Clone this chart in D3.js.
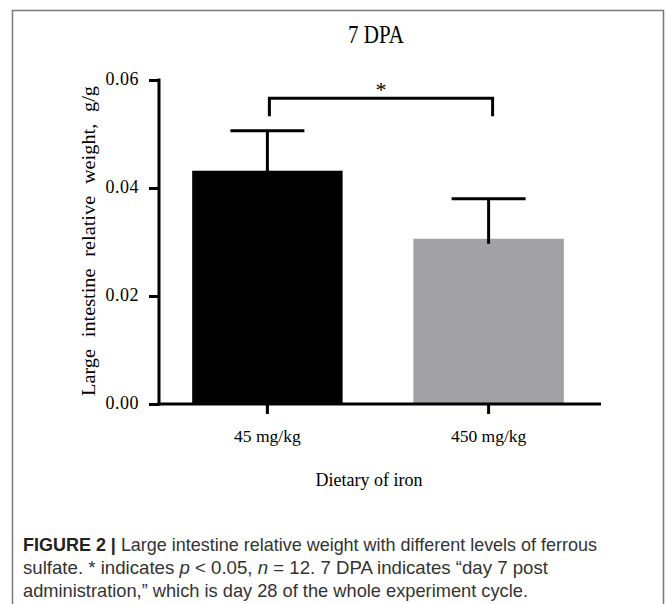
<!DOCTYPE html>
<meta charset="utf-8">
<title>7 DPA</title>
<style>
    body { margin: 0; background: #fff; }
    svg text { font-family: "Liberation Serif", "Times New Roman", serif; fill: #000; }
    .caption { font-family: "Liberation Sans Narrow", "Arial Narrow", "Liberation Sans", sans-serif; font-size: 18.5px; fill: #333; }
    .axis path, .axis line { stroke: #000; stroke-width: 3px; }
    .axis text { font-size: 18px; letter-spacing: 0.5px; }
</style>
<body>
<div id="chart"></div>
<script src="https://cdnjs.cloudflare.com/ajax/libs/d3/7.8.5/d3.min.js"></script>
<script>
    // data
    var groups = ["45 mg/kg", "450 mg/kg"];
    var means = [0.0432, 0.0306];
    var errors = [0.0074, 0.0074];
    var barColors = ["#000000", "#a2a1a5"];
    var yTicks = [0, 0.02, 0.04, 0.06];

    var width = 667, height = 604;
    var svg = d3.select("#chart").append("svg")
        .attr("width", width)
        .attr("height", height);

    // figure frame (open at the bottom)
    svg.append("path")
        .attr("d", "M12.5,620V10.5H663.5V620")
        .attr("fill", "none")
        .attr("stroke", "#7a7a7a")
        .attr("stroke-width", 1.5);

    var x = d3.scaleBand().domain(groups).range([159, 597]).paddingInner(0.32).paddingOuter(0.15);
    var y = d3.scaleLinear().domain([0, 0.06]).range([404, 80]);

    // bars
    svg.selectAll("rect.bar")
        .data(means)
        .enter()
        .append("rect")
        .attr("class", "bar")
        .attr("x", function (d, i) { return x(groups[i]); })
        .attr("y", function (d) { return y(d); })
        .attr("width", x.bandwidth())
        .attr("height", function (d) { return y(0) - y(d); })
        .attr("fill", function (d, i) { return barColors[i]; });

    // error bars (upper only)
    var eb = svg.selectAll("g.err")
        .data(means)
        .enter()
        .append("g")
        .attr("class", "err")
        .attr("stroke", "#000")
        .attr("stroke-width", 3);
    eb.append("line")
        .attr("x1", function (d, i) { return x(groups[i]) + x.bandwidth() / 2; })
        .attr("x2", function (d, i) { return x(groups[i]) + x.bandwidth() / 2; })
        .attr("y1", function (d) { return y(d) + 5; })
        .attr("y2", function (d, i) { return y(d + errors[i]); });
    eb.append("line")
        .attr("x1", function (d, i) { return x(groups[i]) + x.bandwidth() / 2 - 37; })
        .attr("x2", function (d, i) { return x(groups[i]) + x.bandwidth() / 2 + 37; })
        .attr("y1", function (d, i) { return y(d + errors[i]); })
        .attr("y2", function (d, i) { return y(d + errors[i]); });

    // axes
    var yAxis = svg.append("g")
        .attr("class", "axis")
        .attr("transform", "translate(159,0)")
        .call(d3.axisLeft(y).tickValues(yTicks).tickFormat(d3.format(".2f")).tickSize(10).tickSizeOuter(0).tickPadding(10));
    yAxis.select(".domain").attr("d", "M0," + (y(0) + 1.5) + "V" + (y(0.06) - 1.5));
    yAxis.selectAll("text").attr("transform", "scale(1,1.1)").attr("dy", "0.25em");

    var xAxis = svg.append("g")
        .attr("class", "axis")
        .attr("transform", "translate(0," + y(0) + ")")
        .call(d3.axisBottom(x).tickSize(10).tickSizeOuter(0).tickPadding(16));
    xAxis.select(".domain").attr("d", "M157.5,0H601");
    xAxis.selectAll("text").style("letter-spacing", "0px").style("font-size", "17.5px");

    // significance bracket
    var bx1 = x(groups[0]) + x.bandwidth() / 2 + 2;
    var bx2 = x(groups[1]) + x.bandwidth() / 2 + 4;
    var by = y(0.0566);
    svg.append("path")
        .attr("d", "M" + bx1 + "," + (by + 18) + "V" + by + "H" + bx2 + "V" + (by + 18))
        .attr("fill", "none")
        .attr("stroke", "#000")
        .attr("stroke-width", 3);
    svg.append("text")
        .attr("x", (bx1 + bx2) / 2)
        .attr("y", by - 1)
        .attr("text-anchor", "middle")
        .style("font-size", "22px")
        .text("*");

    // titles
    svg.append("text")
        .attr("transform", "translate(376,43) scale(1,1.2)")
        .attr("text-anchor", "middle")
        .style("font-size", "21px")
        .text("7 DPA");

    svg.append("text")
        .attr("transform", "translate(95,241) rotate(-90)")
        .attr("text-anchor", "middle")
        .attr("textLength", 310)
        .attr("lengthAdjust", "spacingAndGlyphs")
        .style("font-size", "18px")
        .style("word-spacing", "6px")
        .text("Large intestine relative weight, g/g");

    svg.append("text")
        .attr("transform", "translate(369,486) scale(1,1.1)")
        .attr("text-anchor", "middle")
        .style("font-size", "18px")
        .text("Dietary of iron");

    // caption
    var cap = svg.append("g");
    var l1 = cap.append("text").attr("class", "caption").attr("x", 23).attr("y", 551)
        .attr("textLength", 574).attr("lengthAdjust", "spacingAndGlyphs");
    l1.append("tspan").style("font-weight", "bold").style("fill", "#222").text("FIGURE 2 | ");
    l1.append("tspan").text("Large intestine relative weight with different levels of ferrous");
    var l2 = cap.append("text").attr("class", "caption").attr("x", 23).attr("y", 574)
        .attr("textLength", 525).attr("lengthAdjust", "spacingAndGlyphs");
    l2.append("tspan").text("sulfate. * indicates ");
    l2.append("tspan").style("font-style", "italic").text("p");
    l2.append("tspan").text(" < 0.05, ");
    l2.append("tspan").style("font-style", "italic").text("n");
    l2.append("tspan").text(" = 12. 7 DPA indicates \u201cday 7 post");
    cap.append("text").attr("class", "caption").attr("x", 23).attr("y", 597)
        .attr("textLength", 505).attr("lengthAdjust", "spacingAndGlyphs")
        .text("administration,\u201d which is day 28 of the whole experiment cycle.");
</script>
</body>
